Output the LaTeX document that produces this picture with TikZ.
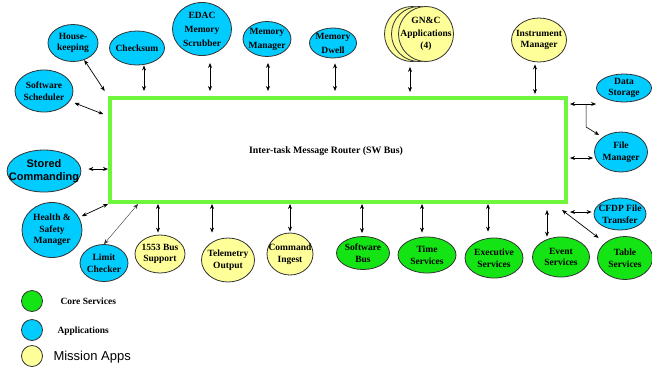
\documentclass[tikz,border=0pt]{standalone}
\usepackage{fontspec}
\setmainfont{Liberation Serif}
\newfontfamily\arialfam{Liberation Sans}
\usetikzlibrary{shapes.geometric,arrows.meta}
\definecolor{appblue}{RGB}{0,204,255}
\definecolor{coregreen}{RGB}{20,228,20}
\definecolor{missionyellow}{RGB}{255,255,153}
\definecolor{busgreen}{RGB}{110,245,60}
\definecolor{rimgray}{RGB}{50,50,50}

\begin{document}
\begin{tikzpicture}[x=1pt,y=-1pt,
  blob/.style={ellipse, draw=rimgray, line width=0.8pt, inner xsep=-9pt, inner ysep=-7pt,
    align=center, font=\fontsize{9.5}{11.5}\selectfont\bfseries},
  sz/.style 2 args={minimum width=#1pt, minimum height=#2pt},
  app/.style={blob, fill=appblue},
  core/.style={blob, fill=coregreen},
  mission/.style={blob, fill=missionyellow},
  loose/.style={font=\fontsize{9.5}{14}\selectfont\bfseries},
  link/.style={{Stealth[length=5pt,width=4pt]}-{Stealth[length=5pt,width=4pt]}, line width=0.7pt, draw=black},
  thinlink/.style={link, line width=0.4pt, draw=black!80},
  keydot/.style={circle, draw=rimgray, line width=0.8pt, minimum size=21pt, inner sep=0pt},
  keytext/.style={anchor=west, font=\fontsize{9.5}{10}\selectfont\bfseries},
]
\useasboundingbox (0,0) rectangle (652,368);

% software bus
\node[draw=busgreen, line width=4pt, minimum width=456pt, minimum height=104pt, inner sep=0pt] (bus) at (338,150) {};
\node[font=\fontsize{9.8}{11}\selectfont\bfseries] (router) at (326,151) {Inter-task Message Router (SW Bus)};

% top and left applications
\node[app, sz={50}{37}] (hk) at (73,43) {House-\\keeping};
\node[app, sz={58}{42}] (sched) at (44,91) {Software\\Scheduler};
\node[app, sz={55}{34}] (chk) at (137,48) {Checksum};
\node[app, loose, sz={59}{53}] (edac) at (202,29) {EDAC\\Memory\\Scrubber};
\node[app, loose, sz={48}{35}] (mm) at (267,39) {Memory\\Manager};
\node[app, loose, sz={47}{30}] (md) at (333,43) {Memory\\Dwell};
\node[mission, sz={55}{55}] (gncb) at (412,34) {};
\node[mission, sz={55}{55}] (gncm) at (419,34) {};
\node[mission, sz={55}{55}, font=\fontsize{9.5}{12.5}\selectfont\bfseries] (gnc) at (426,34) {GN\&C\\Applications\\(4)};
\node[mission, sz={55}{44}] (im) at (539,40) {Instrument\\Manager};

% right side
\node[app, sz={55}{28}] (ds) at (624,88) {Data\\Storage};
\node[app, sz={53}{40}] (fm) at (621,152) {File\\Manager};
\node[app, sz={52}{32}] (cfdp) at (620,214) {CFDP File\\Transfer};
\node[core, sz={55}{43}] (tbl) at (625,258) {Table\\Services};

% bottom row
\node[core, sz={57}{40}] (evt) at (561,257) {Event\\Services};
\node[core, sz={58}{40}] (exe) at (494,258) {Executive\\Services};
\node[core, sz={58}{36}] (tim) at (427,255) {Time\\Services};
\node[core, sz={53}{33}] (swb) at (363,253) {Software\\Bus};
\node[mission, sz={46}{42}] (ci) at (290,254) {Command\\Ingest};
\node[mission, sz={53}{44}] (tlm) at (228,260) {Telemetry\\Output};
\node[mission, sz={50}{38}] (bsup) at (160,254) {1553 Bus\\Support};
\node[app, sz={48}{37}] (lim) at (104,263) {Limit\\Checker};
\node[app, sz={60}{55}] (hs) at (52,230) {Health \&\\Safety\\Manager};
\node[app, sz={72}{42}, font=\arialfam\fontsize{11}{13}\selectfont\bfseries] (sc) at (44,171) {Stored\\Commanding};

% connections above the bus
\draw[link, shorten >=6pt] (hk) -- (bus.north west);
\draw[link, shorten <=5pt, shorten >=5pt] (sched) -- ([yshift=-20pt]bus.north west);
\draw[link, shorten >=5pt] ([xshift=7pt]chk.south) -- ([xshift=7pt]chk.south |- bus.north);
\draw[link, shorten <=7pt, shorten >=5pt] ([xshift=8pt]edac.south) -- ([xshift=8pt]edac.south |- bus.north);
\draw[link, shorten <=6pt, shorten >=5pt] ([xshift=1pt]mm.south) -- ([xshift=1pt]mm.south |- bus.north);
\draw[link, shorten <=5pt, shorten >=5pt] ([xshift=2pt]md.south) -- ([xshift=2pt]md.south |- bus.north);
\draw[link, shorten <=5pt, shorten >=4pt] ([xshift=-16pt]gnc.south) -- ([xshift=-16pt]gnc.south |- bus.north);
\draw[link, shorten <=2pt, shorten >=2pt] ([xshift=-4pt]im.south) -- ([xshift=-4pt]im.south |- bus.north);

% connections on the right
\draw[link, shorten <=2pt] ([yshift=-16pt]ds.west -| bus.east) -- ([yshift=-16pt]ds.west);
\coordinate (fork) at ([xshift=-10pt,yshift=-16pt]ds.west);
\draw[line width=0.6pt, -{Stealth[length=5pt,width=4pt]}] (fork) -- ++(0,23) -- ++(13,8);
\draw[link, shorten <=2pt, shorten >=1pt] ([yshift=-6pt]fm.west -| bus.east) -- ([yshift=-6pt]fm.west);
\draw[link, shorten <=2pt, shorten >=2pt] ([yshift=2pt]cfdp.west -| bus.east) -- ([yshift=2pt]cfdp.west);
\draw[link, shorten >=8pt] ([xshift=-6pt,yshift=-6pt]bus.south east) -- (tbl);

% connections below the bus
\draw[link, shorten <=6pt] ([xshift=-14pt]evt.north |- bus.south) -- ([xshift=-14pt]evt.north);
\draw[link, shorten >=6pt] ([xshift=-6pt]exe.north |- bus.south) -- ([xshift=-6pt]exe.north);
\draw[link, shorten >=4pt] ([xshift=-5pt]tim.north |- bus.south) -- ([xshift=-5pt]tim.north);
\draw[link, shorten >=3pt] ([xshift=-1pt]swb.north |- bus.south) -- ([xshift=-1pt]swb.north);
\draw[link, shorten >=1pt] (ci.north |- bus.south) -- (ci.north);
\draw[link, shorten >=5pt] ([xshift=-16pt]tlm.north |- bus.south) -- ([xshift=-16pt]tlm.north);
\draw[link, shorten >=2pt] ([xshift=-2pt]bsup.north |- bus.south) -- ([xshift=-2pt]bsup.north);
\draw[thinlink] ([xshift=30pt]bus.south west) -- (lim.north);
\draw[link, shorten >=3pt] (bus.south west) -- (hs);
\draw[link, shorten <=7pt] ([yshift=2pt]sc.east) -- ([yshift=2pt]sc.east -| bus.west);

% legend
\node[keydot, fill=coregreen] (keycore) at (32,301) {};
\node[keydot, fill=appblue] (keyapp) at (32,330) {};
\node[keydot, fill=missionyellow] (keymis) at (32,356) {};
\node[keytext] (keycoretxt) at (57,301) {Core Services};
\node[keytext] (keyapptxt) at (54,331) {Applications};
\node[anchor=west, font=\arialfam\fontsize{13}{15}\selectfont] (keymistxt) at (50,357) {Mission Apps};
\end{tikzpicture}
\end{document}
